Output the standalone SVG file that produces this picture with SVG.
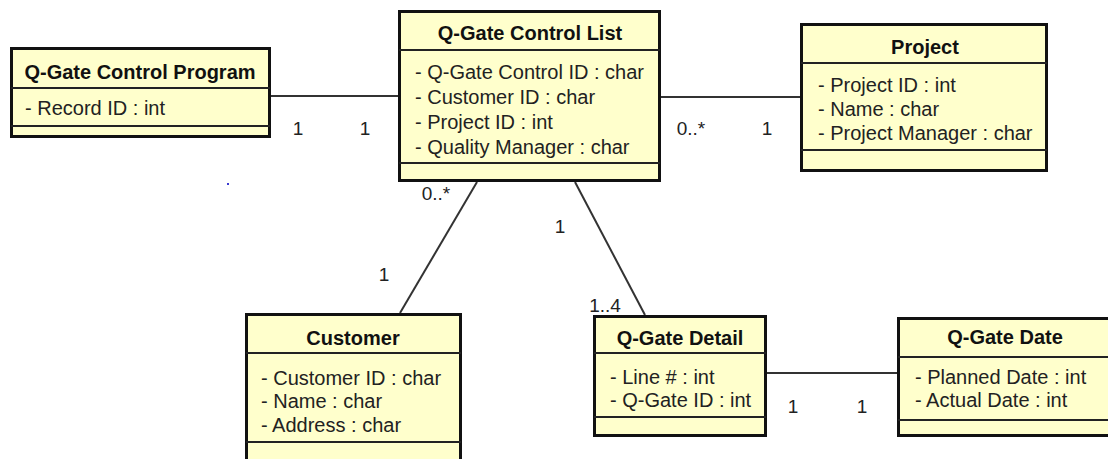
<svg xmlns="http://www.w3.org/2000/svg" width="1108" height="459" viewBox="0 0 1108 459">
  <style>
    .box { fill: #ffffcc; stroke: #111; stroke-width: 3; }
    .div { stroke: #222; stroke-width: 2; }
    .conn { stroke: #333; stroke-width: 2; fill: none; }
    text { font-family: "Liberation Sans", Arial, sans-serif; font-size: 20px; fill: #222; }
    .title { font-weight: bold; text-anchor: middle; fill: #111; }
    .mult { text-anchor: middle; font-size: 19px; }
  </style>
  <rect width="1108" height="459" fill="#ffffff"/>

  <!-- associations with multiplicities -->
  <g id="connectors">
    <line class="conn" x1="271" y1="96" x2="398" y2="96"/>
    <line class="conn" x1="661" y1="97" x2="800" y2="97"/>
    <line class="conn" x1="477" y1="182" x2="400" y2="313"/>
    <line class="conn" x1="575" y1="182" x2="645" y2="315"/>
    <line class="conn" x1="767" y1="373" x2="897" y2="373"/>
    <text class="mult" x="298" y="135">1</text>
    <text class="mult" x="365" y="135">1</text>
    <text class="mult" x="691" y="135">0..*</text>
    <text class="mult" x="767" y="135">1</text>
    <text class="mult" x="436" y="200">0..*</text>
    <text class="mult" x="384" y="281">1</text>
    <text class="mult" x="560" y="233">1</text>
    <text class="mult" x="605" y="312">1..4</text>
    <text class="mult" x="793" y="413">1</text>
    <text class="mult" x="862" y="413">1</text>
  </g>

  <rect x="227" y="183" width="2" height="2" fill="#3a3ad0"/>

  <g id="qgate-control-program">
    <rect class="box" x="11.5" y="48.5" width="258" height="88"/>
    <line class="div" x1="11" y1="88" x2="270" y2="88"/>
    <line class="div" x1="11" y1="126" x2="270" y2="126"/>
    <text class="title" x="140" y="79">Q-Gate Control Program</text>
    <text x="25" y="115">- Record ID : int</text>
  </g>

  <g id="qgate-control-list">
    <rect class="box" x="399.5" y="11.5" width="260" height="169"/>
    <line class="div" x1="399" y1="50" x2="660" y2="50"/>
    <line class="div" x1="399" y1="163" x2="660" y2="163"/>
    <text class="title" x="530" y="40">Q-Gate Control List</text>
    <text x="415" y="79">- Q-Gate Control ID : char</text>
    <text x="415" y="104">- Customer ID : char</text>
    <text x="415" y="129">- Project ID : int</text>
    <text x="415" y="154">- Quality Manager : char</text>
  </g>

  <g id="project">
    <rect class="box" x="801.5" y="24.5" width="245" height="146"/>
    <line class="div" x1="801" y1="63" x2="1047" y2="63"/>
    <line class="div" x1="801" y1="150" x2="1047" y2="150"/>
    <text class="title" x="925" y="54">Project</text>
    <text x="818" y="92">- Project ID : int</text>
    <text x="818" y="116">- Name : char</text>
    <text x="818" y="140">- Project Manager : char</text>
  </g>

  <g id="customer">
    <rect class="box" x="246.5" y="314.5" width="214" height="160"/>
    <line class="div" x1="246" y1="353" x2="461" y2="353"/>
    <line class="div" x1="246" y1="442" x2="461" y2="442"/>
    <text class="title" x="353" y="345">Customer</text>
    <text x="261" y="385">- Customer ID : char</text>
    <text x="261" y="408">- Name : char</text>
    <text x="261" y="432">- Address : char</text>
  </g>

  <g id="qgate-detail">
    <rect class="box" x="594.5" y="316.5" width="171" height="119"/>
    <line class="div" x1="594" y1="353" x2="766" y2="353"/>
    <line class="div" x1="594" y1="417" x2="766" y2="417"/>
    <text class="title" x="680" y="345">Q-Gate Detail</text>
    <text x="610" y="384">- Line # : int</text>
    <text x="610" y="407">- Q-Gate ID : int</text>
  </g>

  <g id="qgate-date">
    <rect class="box" x="898.5" y="318.5" width="220" height="117"/>
    <line class="div" x1="898" y1="357" x2="1108" y2="357"/>
    <line class="div" x1="898" y1="420" x2="1108" y2="420"/>
    <text class="title" x="1005" y="344">Q-Gate Date</text>
    <text x="915" y="384">- Planned Date : int</text>
    <text x="915" y="407">- Actual Date : int</text>
  </g>
</svg>
